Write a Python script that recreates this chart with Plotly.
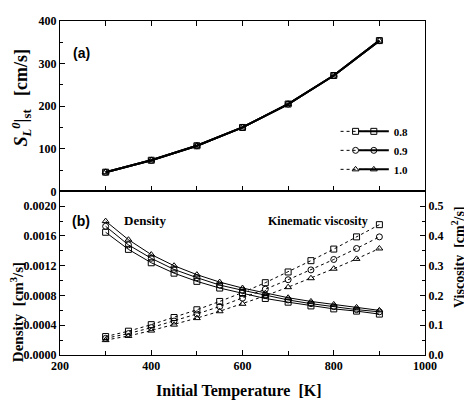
import plotly.graph_objects as go

# ---- data ----
T_top = [300, 400, 500, 600, 700, 800, 900]
SL = [45, 73, 107, 150, 205, 272, 354]

T = [300, 350, 400, 450, 500, 550, 600, 650, 700, 750, 800, 850, 900]
dens_08 = [0.00165, 0.00142, 0.00124, 0.00110, 0.00099, 0.00090, 0.00083, 0.00076, 0.00071, 0.00066, 0.00062, 0.00059, 0.00055]
dens_09 = [0.00173, 0.00148, 0.00130, 0.00115, 0.00104, 0.00094, 0.00087, 0.00080, 0.00074, 0.00069, 0.00065, 0.00061, 0.00058]
dens_10 = [0.00180, 0.00155, 0.00135, 0.00120, 0.00108, 0.00098, 0.00090, 0.00083, 0.00077, 0.00072, 0.00068, 0.00064, 0.00060]
visc_08 = [0.062, 0.080, 0.102, 0.126, 0.152, 0.180, 0.210, 0.243, 0.279, 0.317, 0.356, 0.397, 0.438]
visc_09 = [0.056, 0.072, 0.092, 0.114, 0.138, 0.163, 0.191, 0.221, 0.253, 0.286, 0.321, 0.358, 0.397]
visc_10 = [0.050, 0.064, 0.082, 0.102, 0.124, 0.147, 0.172, 0.199, 0.228, 0.258, 0.290, 0.323, 0.358]

labels = ["0.8", "0.9", "1.0"]
symbols = ["square-open", "circle-open", "triangle-up-open"]
dens = [dens_08, dens_09, dens_10]
visc = [visc_08, visc_09, visc_10]

SERIF = "Liberation Serif, Times New Roman, serif"
fig = go.Figure()

mk = lambda sym: dict(symbol=sym, size=6, color="black", line=dict(width=1, color="black"))

# top panel
for lab, sym in zip(labels, symbols):
    fig.add_trace(go.Scatter(x=T_top, y=SL, mode="lines+markers", name=lab,
                             line=dict(color="black", width=2), marker=mk(sym),
                             xaxis="x", yaxis="y", legend="legend2", showlegend=True))
    # dotted legend sample
    fig.add_trace(go.Scatter(x=[None], y=[None], mode="lines+markers", name=" ",
                             line=dict(color="black", width=1, dash="dot"), marker=mk(sym),
                             xaxis="x", yaxis="y", legend="legend", showlegend=True))

# bottom panel: density (solid, left axis)
for lab, sym, d in zip(labels, symbols, dens):
    fig.add_trace(go.Scatter(x=T, y=d, mode="lines+markers", name=lab, showlegend=False,
                             line=dict(color="black", width=1), marker=mk(sym),
                             xaxis="x2", yaxis="y2"))
# viscosity (dotted, right axis)
for lab, sym, v in zip(labels, symbols, visc):
    fig.add_trace(go.Scatter(x=T, y=v, mode="lines+markers", name=lab, showlegend=False,
                             line=dict(color="black", width=1, dash="dot"), marker=mk(sym),
                             xaxis="x2", yaxis="y3"))

tickfont = dict(family=SERIF, size=12, color="black", weight="bold")
axcommon = dict(showline=True, linecolor="black", linewidth=1, showgrid=False,
                zeroline=False, ticks="inside", ticklen=5, tickcolor="black", tickfont=tickfont,
                ticklabeloverflow="allow")

domain_split = 0.49
fig.update_layout(
    width=464, height=395,
    margin=dict(l=52, r=47, t=6, b=48),
    paper_bgcolor="white", plot_bgcolor="white",
    xaxis=dict(domain=[0, 1], range=[200, 1000], anchor="y", dtick=100, showticklabels=False,
               mirror="ticks", **axcommon),
    yaxis=dict(domain=[domain_split, 1], range=[0, 400], anchor="x", dtick=100, mirror=True,
               minor=dict(dtick=50, ticks="inside", ticklen=3, tickcolor="black"), **axcommon),
    xaxis2=dict(domain=[0, 1], range=[200, 1000], anchor="y2", dtick=200, mirror=True,
                minor=dict(dtick=100, ticks="inside", ticklen=4, tickcolor="black"), **axcommon),
    yaxis2=dict(domain=[0, domain_split], range=[0, 0.0022], anchor="x2", dtick=0.0004,
                tickformat=".4f", minor=dict(dtick=0.0002, ticks="inside", ticklen=3, tickcolor="black"),
                **axcommon),
    yaxis3=dict(range=[0, 0.55], overlaying="y2", side="right", anchor="x2", dtick=0.1,
                tickformat=".1f", minor=dict(dtick=0.05, ticks="inside", ticklen=3, tickcolor="black"),
                **axcommon),
    legend=dict(x=0.755, y=0.713, xanchor="left", yanchor="top", bgcolor="rgba(0,0,0,0)",
                font=dict(family=SERIF, size=11, color="black", weight="bold"),
                itemwidth=30, tracegroupgap=0),
    legend2=dict(x=0.805, y=0.713, xanchor="left", yanchor="top", bgcolor="rgba(0,0,0,0)",
                 font=dict(family=SERIF, size=11, color="black", weight="bold"),
                 itemwidth=30, tracegroupgap=0),
    showlegend=True,
)

def ann(text, x, y, font, angle=0):
    fig.add_annotation(text=text, xref="paper", yref="paper", x=x, y=y, xanchor="center",
                       yanchor="middle", textangle=angle, showarrow=False, font=font)

SANS = "Liberation Sans, Arial, sans-serif"
ann("(a)", 0.06, 0.903, dict(family=SANS, size=14, color="black", weight="bold"))
ann("(b)", 0.058, 0.402, dict(family=SANS, size=14, color="black", weight="bold"))
ann("Density", 0.233, 0.402, dict(family=SERIF, size=13, color="black", weight="bold"))
ann("Kinematic viscosity", 0.707, 0.402, dict(family=SERIF, size=12, color="black", weight="bold"))
ann("<i>S<sub>L</sub><sup>0</sup></i>|<sub>st</sub>   [cm/s]", -0.105, 0.77,
    dict(family=SERIF, size=18, color="black", weight="bold"), -90)
ann("Density  [cm<sup>3</sup>/s]", -0.118, 0.128,
    dict(family=SERIF, size=15, color="black", weight="bold"), -90)
ann("Viscosity  [cm<sup>2</sup>/s]", 1.09, 0.293,
    dict(family=SERIF, size=14, color="black", weight="bold"), -90)
ann("Initial Temperature  [K]", 0.488, -0.108,
    dict(family=SERIF, size=16, color="black", weight="bold"))

fig.write_html("out.html")
